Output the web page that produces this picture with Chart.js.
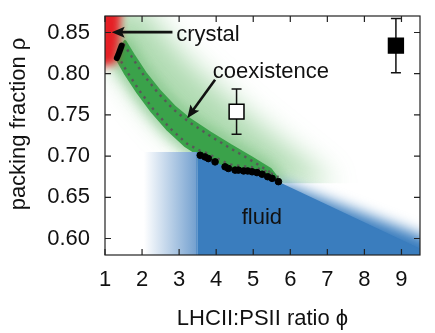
<!DOCTYPE html>
<html>
<head>
<meta charset="utf-8">
<script src="https://cdn.jsdelivr.net/npm/chart.js@4"></script>
<style>
  html, body { margin: 0; padding: 0; background: #fff; }
</style>
</head>
<body>
<canvas id="grafico" width="435" height="333"></canvas>
<script>
// Ejes
const xTicks = [1, 2, 3, 4, 5, 6, 7, 8, 9];
const yTicks = [0.60, 0.65, 0.70, 0.75, 0.80, 0.85];

// Puntos de simulación: lado fluido de la coexistencia
const fluidPhi = [3.57, 3.70, 3.79, 3.97, 4.24, 4.33, 4.51, 4.60, 4.74, 4.85, 4.97, 5.10, 5.24, 5.39, 5.51, 5.68];
const fluidRho = [0.701, 0.699, 0.697, 0.693, 0.687, 0.685, 0.683, 0.683, 0.682, 0.682, 0.681, 0.680, 0.678, 0.675, 0.673, 0.669];

// Lado cristalino
const crystalPhi = [1.32, 1.36, 1.40, 1.45];
const crystalRho = [0.819, 0.823, 0.828, 0.834];

// Experimentos (cuadro abierto y cuadro lleno)
const expPhi = [4.55, 8.85];
const expRho = [0.754, 0.834];
const expErr = [0.0275, 0.033];

// Bordes de la banda de coexistencia
const bandUpper = [[1.54, 0.839], [1.76, 0.823], [2.08, 0.801], [2.49, 0.778], [2.89, 0.759], [3.30, 0.744],
                   [3.84, 0.728], [4.38, 0.713], [4.92, 0.699], [5.46, 0.684], [5.70, 0.670]];
const bandLower = [[1.30, 0.820], [1.54, 0.801], [1.89, 0.777], [2.27, 0.754], [2.70, 0.732], [3.16, 0.713]];

// Regiones de fondo
const greenHalo = [[1.0, 0.884], [1.95, 0.884], [3.3, 0.812], [5.0, 0.745], [6.7, 0.684], [7.2, 0.665],
                   [5.73, 0.665], [3.57, 0.700], [2.6, 0.735], [1.9, 0.772], [1.4, 0.805], [1.0, 0.815]];
const crystalZone = [[0.8, 0.89], [1.45, 0.89], [1.40, 0.84], [1.30, 0.812], [0.8, 0.808]];
const fluidEdge = [[5.68, 0.669], [9.5, 0.588], [11, 0.56]];
const fluidFade = [[5.68, 0.669], [9.5, 0.604], [11, 0.574]];
const fluidStart = 3.5, fluidTop = 0.705, fluidFadeFrom = 2.05;

const AZUL = 'rgb(58,125,190)';
const VERDE = 'rgb(58,162,74)';
const ROJO = 'rgb(230,30,36)';

const fluidPts = fluidPhi.map((p, i) => [p, fluidRho[i]]);

function aPx(chart, pts) {
  const { x, y } = chart.scales;
  return pts.map(([u, v]) => [x.getPixelForValue(u), y.getPixelForValue(v)]);
}

function trazar(ctx, pts, cerrar = true) {
  ctx.beginPath();
  pts.forEach(([px, py], i) => i ? ctx.lineTo(px, py) : ctx.moveTo(px, py));
  if (cerrar) ctx.closePath();
}

// Dibuja las regiones del diagrama de fases
const regiones = {
  id: 'regiones',
  beforeDatasetsDraw(chart) {
    const { ctx, chartArea: a, scales: { x, y } } = chart;
    const lowerFull = bandLower.concat(fluidPts);
    const banda = aPx(chart, bandUpper.concat(lowerFull.slice().reverse()));

    ctx.save();
    ctx.beginPath();
    ctx.rect(a.left, a.top, a.width, a.height);
    ctx.clip();

    // halo verde (recortado abajo en la zona fluida)
    ctx.save();
    trazar(ctx, aPx(chart, [[0.5, 0.9], [11, 0.9], [11, 0.667], [5.7, 0.667], [5.7, 0.5], [0.5, 0.5]]));
    ctx.clip();
    ctx.filter = 'blur(14px)';
    ctx.fillStyle = 'rgba(80,175,85,0.45)';
    trazar(ctx, aPx(chart, greenHalo));
    ctx.fill();
    ctx.filter = 'blur(6px)';
    ctx.strokeStyle = 'rgba(70,170,80,0.4)';
    ctx.lineWidth = 12;
    ctx.lineJoin = 'round';
    trazar(ctx, banda);
    ctx.stroke();
    ctx.restore();

    // banda de coexistencia
    ctx.fillStyle = VERDE;
    ctx.strokeStyle = VERDE;
    ctx.lineWidth = 3;
    ctx.lineJoin = 'round';
    trazar(ctx, banda);
    ctx.fill();
    ctx.stroke();

    // fluido: degradado a la izquierda
    const x0 = x.getPixelForValue(fluidFadeFrom), x1 = x.getPixelForValue(fluidStart);
    const yTop = y.getPixelForValue(fluidTop);
    const grad = ctx.createLinearGradient(x0, 0, x1, 0);
    grad.addColorStop(0, '#ffffff');
    grad.addColorStop(0.96, 'rgb(118,162,208)');
    grad.addColorStop(1, AZUL);
    ctx.fillStyle = grad;
    ctx.fillRect(a.left, yTop, x1 - a.left, a.bottom - yTop);

    // fluido: borde difuso a la derecha
    ctx.save();
    ctx.filter = 'blur(7px)';
    ctx.fillStyle = AZUL;
    trazar(ctx, aPx(chart, [[fluidFade[0][0], 0.5]].concat(fluidFade, [[11, 0.5]])));
    ctx.fill();
    ctx.restore();

    // fluido: zona sólida
    ctx.fillStyle = AZUL;
    trazar(ctx, aPx(chart, [[fluidStart, 0.5], [fluidStart, fluidTop]].concat(fluidPts, fluidEdge, [[11, 0.5]])));
    ctx.fill();

    // líneas punteadas de la banda
    ctx.strokeStyle = 'rgb(88,88,88)';
    ctx.lineWidth = 2.4;
    ctx.setLineDash([2.4, 4.6]);
    trazar(ctx, aPx(chart, bandUpper).map(([px, py]) => [px - 1.5, py + 2]), false);
    ctx.stroke();
    const inf = aPx(chart, bandLower).map(([px, py]) => [px + 1.5, py - 2])
      .concat(aPx(chart, fluidPts).map(([px, py]) => [px, py - 4.5]));
    trazar(ctx, inf, false);
    ctx.stroke();
    ctx.setLineDash([]);

    // cristal
    ctx.save();
    ctx.filter = 'blur(4px)';
    ctx.fillStyle = ROJO;
    trazar(ctx, aPx(chart, crystalZone));
    ctx.fill();
    ctx.restore();

    ctx.restore();

    // barras de error
    ctx.save();
    ctx.strokeStyle = '#111';
    ctx.lineWidth = 1.5;
    expPhi.forEach((p, i) => {
      const px = x.getPixelForValue(p);
      const yA = y.getPixelForValue(expRho[i] + expErr[i]);
      const yB = y.getPixelForValue(expRho[i] - expErr[i]);
      ctx.beginPath();
      ctx.moveTo(px, yA); ctx.lineTo(px, yB);
      ctx.moveTo(px - 5, yA); ctx.lineTo(px + 5, yA);
      ctx.moveTo(px - 5, yB); ctx.lineTo(px + 5, yB);
      ctx.stroke();
    });
    ctx.restore();
  }
};

function flecha(ctx, x0, y0, x1, y1) {
  const ang = Math.atan2(y1 - y0, x1 - x0), L = 13, W = 5.5;
  const c = Math.cos(ang), s = Math.sin(ang);
  ctx.beginPath();
  ctx.moveTo(x0, y0);
  ctx.lineTo(x1 - L * 0.7 * c, y1 - L * 0.7 * s);
  ctx.stroke();
  ctx.beginPath();
  ctx.moveTo(x1, y1);
  ctx.lineTo(x1 - L * c + W * s, y1 - L * s - W * c);
  ctx.lineTo(x1 - L * 0.8 * c, y1 - L * 0.8 * s);
  ctx.lineTo(x1 - L * c - W * s, y1 - L * s + W * c);
  ctx.closePath();
  ctx.fill();
}

// Etiquetas y flechas
const etiquetas = [
  { text: 'crystal', at: [2.92, 0.8395], from: [2.82, 0.8504], to: [1.18, 0.8504] },
  { text: 'coexistence', at: [3.91, 0.7947], from: [3.97, 0.7927], to: [3.22, 0.746] },
  { text: 'fluid', at: [4.69, 0.618] }
];

const anotaciones = {
  id: 'anotaciones',
  afterDatasetsDraw(chart) {
    const { ctx, scales: { x, y } } = chart;
    ctx.save();
    ctx.fillStyle = '#111';
    ctx.strokeStyle = '#111';
    ctx.lineWidth = 2.6;
    ctx.font = '22px "Liberation Sans", Arial, sans-serif';
    ctx.textBaseline = 'alphabetic';
    ctx.textAlign = 'left';
    etiquetas.forEach(e => {
      ctx.fillText(e.text, x.getPixelForValue(e.at[0]), y.getPixelForValue(e.at[1]));
      if (e.from) {
        flecha(ctx, x.getPixelForValue(e.from[0]), y.getPixelForValue(e.from[1]),
          x.getPixelForValue(e.to[0]), y.getPixelForValue(e.to[1]));
      }
    });
    ctx.restore();
  }
};

// Marco, marcas interiores y títulos de ejes
const marco = {
  id: 'marco',
  afterDraw(chart) {
    const { ctx, chartArea: a, scales: { x, y } } = chart;
    ctx.save();
    ctx.strokeStyle = '#222';
    ctx.lineWidth = 1.2;
    ctx.strokeRect(a.left, a.top, a.width, a.height);
    ctx.beginPath();
    xTicks.forEach(v => {
      const p = x.getPixelForValue(v);
      ctx.moveTo(p, a.bottom); ctx.lineTo(p, a.bottom - 6);
      ctx.moveTo(p, a.top); ctx.lineTo(p, a.top + 6);
    });
    yTicks.forEach(v => {
      const p = y.getPixelForValue(v);
      ctx.moveTo(a.left, p); ctx.lineTo(a.left + 6, p);
      ctx.moveTo(a.right, p); ctx.lineTo(a.right - 6, p);
    });
    ctx.stroke();

    ctx.fillStyle = '#111';
    ctx.font = '22px "Liberation Sans", Arial, sans-serif';
    ctx.textAlign = 'center';
    ctx.textBaseline = 'alphabetic';
    ctx.fillText('LHCII:PSII ratio \u03D5', (a.left + a.right) / 2, 325);
    ctx.translate(25, 124);
    ctx.rotate(-Math.PI / 2);
    ctx.fillText('packing fraction \u03C1', 0, 0);
    ctx.restore();
  }
};

Chart.defaults.font.family = '"Liberation Sans", Arial, sans-serif';
Chart.defaults.color = '#111';

new Chart(document.getElementById('grafico'), {
  type: 'scatter',
  data: {
    datasets: [
      {
        label: 'fluid',
        data: fluidPhi.map((p, i) => ({ x: p, y: fluidRho[i] })),
        backgroundColor: '#000',
        borderColor: '#000',
        pointRadius: 3.3,
        showLine: false
      },
      {
        label: 'crystal',
        data: crystalPhi.map((p, i) => ({ x: p, y: crystalRho[i] })),
        showLine: true,
        borderColor: '#000',
        borderWidth: 6,
        borderCapStyle: 'round',
        pointRadius: 0
      },
      {
        label: 'experiment',
        data: expPhi.map((p, i) => ({ x: p, y: expRho[i] })),
        pointStyle: 'rect',
        pointRadius: 10.5,
        backgroundColor: ['#ffffff', '#000000'],
        borderColor: '#000',
        borderWidth: 1.5
      }
    ]
  },
  options: {
    responsive: false,
    animation: false,
    events: [],
    layout: { padding: { top: 16, right: 15, left: 0, bottom: 0 } },
    plugins: { legend: { display: false }, tooltip: { enabled: false } },
    scales: {
      x: {
        type: 'linear',
        min: 1,
        max: 9.5,
        afterBuildTicks: s => { s.ticks = xTicks.map(v => ({ value: v })); },
        afterFit: s => { s.height = 78; s.paddingLeft = 0; s.paddingRight = 0; },
        grid: { display: false, drawTicks: false },
        border: { display: false },
        ticks: { padding: 12, autoSkip: false, maxRotation: 0, font: { size: 22 }, color: '#111' }
      },
      y: {
        min: 0.58,
        max: 0.87,
        afterBuildTicks: s => { s.ticks = yTicks.map(v => ({ value: v })); },
        afterFit: s => { s.width = 105; s.paddingTop = 0; s.paddingBottom = 0; },
        grid: { display: false, drawTicks: false },
        border: { display: false },
        ticks: { padding: 15, autoSkip: false, font: { size: 22 }, color: '#111',
                 callback: v => v.toFixed(2) }
      }
    }
  },
  plugins: [regiones, anotaciones, marco]
});
</script>
</body>
</html>
